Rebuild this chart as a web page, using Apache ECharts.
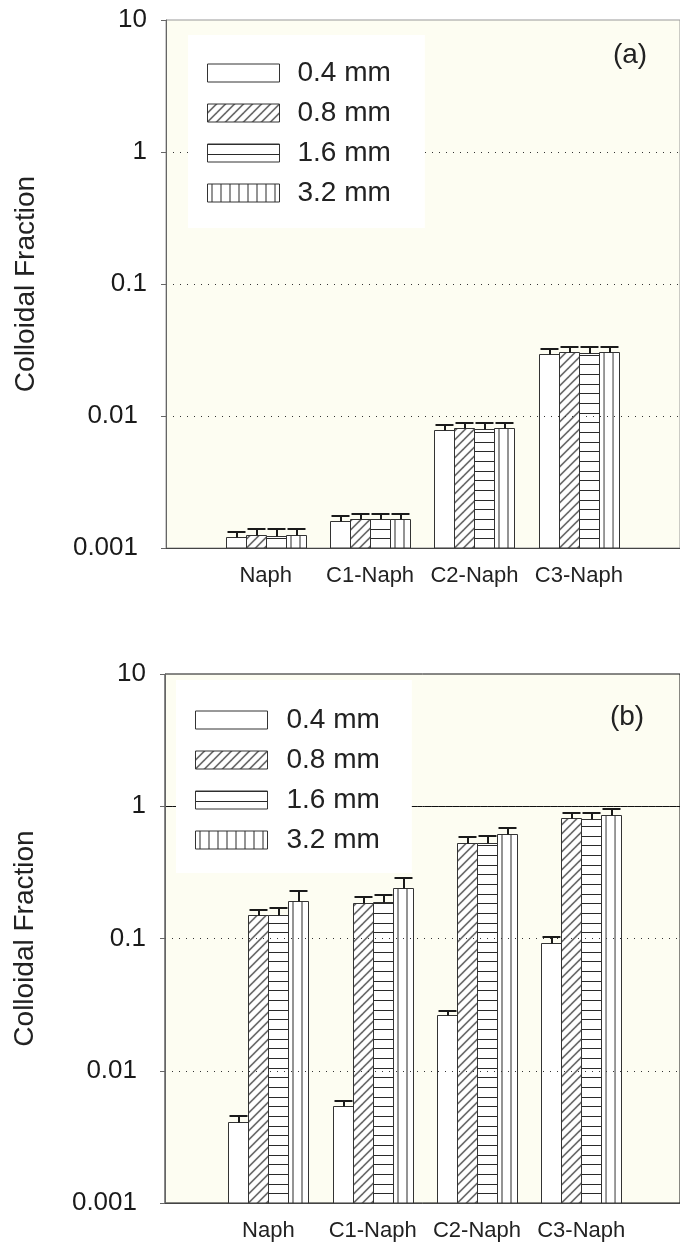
<!DOCTYPE html>
<html><head><meta charset="utf-8">
<script src="https://cdn.jsdelivr.net/npm/echarts@6/dist/echarts.min.js"></script>
<style>html,body{margin:0;padding:0;background:#fff}#c{width:680px;height:1247px}</style>
</head><body><div id="c"></div>
<script>
// ---- data ----
const categories = ['Naph', 'C1-Naph', 'C2-Naph', 'C3-Naph'];
const sizes = ['0.4 mm', '0.8 mm', '1.6 mm', '3.2 mm'];
const yTicks = [0.001, 0.01, 0.1, 1, 10];

// panel (a): mean colloidal fraction and upper end of error bar
const a_04 = [0.00122, 0.00161, 0.00783, 0.0295];
const a_04_up = [0.00133, 0.00176, 0.00855, 0.0322];
const a_08 = [0.00125, 0.00165, 0.00815, 0.0305];
const a_08_up = [0.00139, 0.00182, 0.0089, 0.0335];
const a_16 = [0.00123, 0.00165, 0.00793, 0.0300];
const a_16_up = [0.00139, 0.00182, 0.0089, 0.0335];
const a_32 = [0.00125, 0.00165, 0.00815, 0.0305];
const a_32_up = [0.00139, 0.00182, 0.0089, 0.0335];

// panel (b)
const b_04 = [0.00412, 0.00541, 0.0263, 0.0929];
const b_04_up = [0.00455, 0.00594, 0.0284, 0.102];
const b_08 = [0.151, 0.187, 0.530, 0.811];
const b_08_up = [0.164, 0.207, 0.582, 0.894];
const b_16 = [0.151, 0.188, 0.525, 0.800];
const b_16_up = [0.169, 0.213, 0.596, 0.894];
const b_32 = [0.193, 0.240, 0.614, 0.858];
const b_32_up = [0.230, 0.285, 0.688, 0.948];

// ---- hatch tiles ----
const FONT = "'Liberation Sans', Arial, Helvetica, sans-serif";
const INK = '#333';
function makeTile(kind) {
  const c = document.createElement('canvas');
  let w = 9, h = 9;
  if (kind === 'h') { w = 4; h = 29; }
  if (kind === 'v') { w = 9; h = 4; }
  c.width = w; c.height = h;
  const g = c.getContext('2d');
  g.fillStyle = '#fff'; g.fillRect(0, 0, w, h);
  g.fillStyle = '#2a2a2a'; g.strokeStyle = '#1a1a1a'; g.lineWidth = 1.1;
  if (kind === 'd') {
    g.beginPath();
    g.moveTo(-1, 10); g.lineTo(10, -1);
    g.moveTo(-1, 1); g.lineTo(1, -1);
    g.moveTo(8, 10); g.lineTo(10, 8);
    g.stroke();
  } else if (kind === 'h') {
    g.fillRect(0, 0, w, 1); g.fillRect(0, 10, w, 1); g.fillRect(0, 19, w, 1);
  } else if (kind === 'v') {
    g.fillRect(4, 0, 1, h);
  }
  return c;
}
const tiles = [null, makeTile('d'), makeTile('h'), makeTile('v')];
function fillFor(i, x, y) {
  if (!tiles[i]) return '#fff';
  const p = { image: tiles[i], repeat: 'repeat' };
  if (x !== undefined) { p.x = x; p.y = y; }
  return p;
}

const YMIN = 0.001, YMAX = 10;

function makeSeries(gi, si, vals, ups) {
  return {
    type: 'custom',
    name: sizes[si],
    xAxisIndex: gi, yAxisIndex: gi,
    z: 2,
    itemStyle: { color: fillFor(si), borderColor: INK, borderWidth: 1 },
    data: vals.map((v, i) => [i + 1, v, ups[i]]),
    renderItem: function (params, api) {
      const x = api.value(0), v = api.value(1), up = api.value(2);
      const c = api.coord([x, v]);
      const band = api.coord([x + 1, v])[0] - c[0];
      const w = Math.round(band * 0.19);
      const base = api.coord([x, YMIN])[1];
      const left = Math.round(c[0] + (si - 2) * w) + 0.5;
      const top = Math.round(c[1]) + 0.5;
      const cu = Math.round(api.coord([x, up])[1]);
      const cx = Math.round(left + w / 2);
      return {
        type: 'group',
        children: [
          { type: 'rect', shape: { x: left, y: top, width: w, height: base - top },
            style: { fill: fillFor(si, left, base), stroke: INK, lineWidth: 1 } },
          { type: 'line', shape: { x1: cx, y1: top, x2: cx, y2: cu },
            style: { stroke: '#1a1a1a', lineWidth: 2 } },
          { type: 'line', shape: { x1: left + 1, y1: cu, x2: left + w - 1, y2: cu },
            style: { stroke: '#1a1a1a', lineWidth: 2 } }
        ]
      };
    }
  };
}

function legendData() {
  return sizes.map((n, i) => ({ name: n, icon: 'rect',
    itemStyle: { color: fillFor(i), borderColor: INK, borderWidth: 1 } }));
}

function yAxisOpt(gi) {
  return {
    type: 'log', logBase: 10, min: YMIN, max: YMAX, gridIndex: gi, z: 3,
    name: 'Colloidal Fraction', nameLocation: 'middle', nameGap: 126,
    nameTextStyle: { fontSize: 28, fontFamily: FONT, color: '#222' },
    axisLine: { show: true, lineStyle: { color: '#666', width: 1 } },
    axisTick: { show: true, length: 5, lineStyle: { color: '#666' } },
    minorTick: { show: false },
    axisLabel: { fontSize: 26, fontFamily: FONT, color: '#1a1a1a', margin: 19,
      formatter: v => {
        const n = Number(v.toPrecision(3));
        return n < 0.05 ? '{s|' + String(n) + '}' : String(n);
      },
      rich: { s: { fontSize: 26, fontFamily: FONT, color: '#1a1a1a', padding: [0, 9, 0, 0] } } },
    splitLine: { show: true, showMinLine: false, showMaxLine: false,
      lineStyle: { color: '#333', width: 1, type: [1, 6] } }
  };
}
function xAxisOpt(gi, mn, mx) {
  return {
    type: 'value', gridIndex: gi, min: mn, max: mx, z: 3,
    axisLine: { show: true, onZero: false, lineStyle: { color: '#444', width: 1 } },
    axisTick: { show: false },
    splitLine: { show: false },
    axisLabel: { customValues: [1, 2, 3, 4], fontSize: 22, fontFamily: FONT, color: '#222', margin: 17,
      formatter: v => categories[Math.round(v) - 1] || '' }
  };
}

const series = [];
[[a_04, a_04_up], [a_08, a_08_up], [a_16, a_16_up], [a_32, a_32_up]].forEach((d, i) => series.push(makeSeries(0, i, d[0], d[1])));
[[b_04, b_04_up], [b_08, b_08_up], [b_16, b_16_up], [b_32, b_32_up]].forEach((d, i) => series.push(makeSeries(1, i, d[0], d[1])));
series[4].markLine = {
  silent: true, symbol: ['none', 'none'], label: { show: false }, z: 1,
  lineStyle: { type: 'solid', color: '#111', width: 1 },
  data: [{ yAxis: 1 }]
};

const chart = echarts.init(document.getElementById('c'), null, { renderer: 'canvas' });
chart.setOption({
  animation: false,
  backgroundColor: '#fff',
  textStyle: { fontFamily: FONT },
  grid: [
    { left: 166, right: -5, top: 20, bottom: 699, show: true, backgroundColor: '#fdfdf2', borderColor: '#999', borderWidth: 1 },
    { left: 165, right: -5, top: 674, bottom: 44, show: true, backgroundColor: '#fdfdf2', borderColor: '#111', borderWidth: 1 }
  ],
  xAxis: [xAxisOpt(0, 0.045, 4.969), xAxisOpt(1, 0.0085, 4.947)],
  yAxis: [yAxisOpt(0), yAxisOpt(1)],
  legend: [
    { orient: 'vertical', left: 188, top: 35, itemWidth: 72, itemHeight: 18, itemGap: 12, z: 20,
      padding: [24, 34, 21, 19], backgroundColor: '#fff', borderWidth: 0, selectedMode: false,
      textStyle: { fontSize: 28, fontFamily: FONT, color: '#222', lineHeight: 28, padding: [0, 0, 0, 13] },
      data: legendData() },
    { orient: 'vertical', left: 176, top: 680, itemWidth: 72, itemHeight: 18, itemGap: 12, z: 20,
      padding: [26, 32, 19, 19], backgroundColor: '#fff', borderWidth: 0, selectedMode: false,
      textStyle: { fontSize: 28, fontFamily: FONT, color: '#222', lineHeight: 28, padding: [0, 0, 0, 14] },
      data: legendData() }
  ],
  graphic: [
    { type: 'text', x: 630, y: 55, style: { text: '(a)', fontSize: 28, fontFamily: FONT, fill: '#222', align: 'center', verticalAlign: 'middle', textAlign: 'center', textVerticalAlign: 'middle' } },
    { type: 'text', x: 627, y: 717, style: { text: '(b)', fontSize: 28, fontFamily: FONT, fill: '#222', align: 'center', verticalAlign: 'middle', textAlign: 'center', textVerticalAlign: 'middle' } }
  ],
  series: series
});
</script>
</body></html>
